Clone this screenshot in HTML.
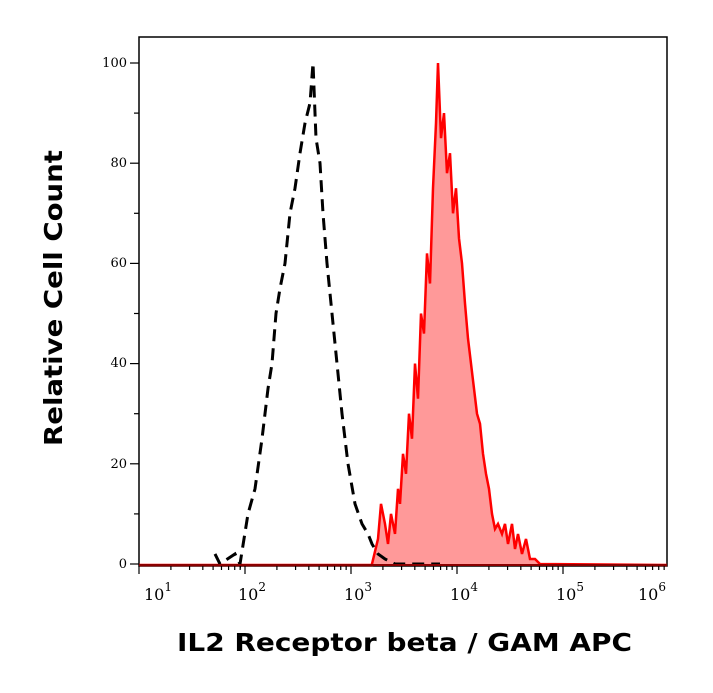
<!DOCTYPE html>
<html><head><meta charset="utf-8"><style>
body{margin:0;background:#fff;width:713px;height:688px;overflow:hidden}
svg{font-family:"DejaVu Serif","Liberation Serif",serif}
</style></head><body>
<svg id="s" width="713" height="688" xmlns="http://www.w3.org/2000/svg">
<rect x="139" y="37" width="528" height="529" fill="#fff" stroke="#000" stroke-width="1.5"/>
<path id="rf" fill="#ff9999" stroke="none"/>
<path id="rl" fill="none" stroke="#ff0000" stroke-width="2.5"/>
<path id="bl" fill="none" stroke="#000" stroke-width="3" stroke-dasharray="12,7"/>
<line x1="139" y1="565" x2="667" y2="565" stroke="#8b0000" stroke-width="2"/>
<g id="ax" stroke="#000" stroke-width="1.2"></g>
<g font-size="13" text-anchor="end" fill="#000">
<text x="127" y="67">100</text><text x="127" y="167">80</text><text x="127" y="267">60</text>
<text x="127" y="367">40</text><text x="127" y="468">20</text><text x="127" y="568">0</text>
</g>
<g font-size="16" fill="#000">
<text x="144" y="600">10<tspan font-size="12" dy="-9">1</tspan></text>
<text x="238" y="600">10<tspan font-size="12" dy="-9">2</tspan></text>
<text x="344" y="600">10<tspan font-size="12" dy="-9">3</tspan></text>
<text x="450" y="600">10<tspan font-size="12" dy="-9">4</tspan></text>
<text x="556" y="600">10<tspan font-size="12" dy="-9">5</tspan></text>
<text x="638" y="600">10<tspan font-size="12" dy="-9">6</tspan></text>
</g>
<text x="177" y="651" font-size="25" font-weight="bold" textLength="455" lengthAdjust="spacingAndGlyphs" font-family="DejaVu Sans,sans-serif">IL2 Receptor beta / GAM APC</text>
<text transform="translate(62,446) rotate(-90)" font-size="25" font-weight="bold" textLength="296" lengthAdjust="spacingAndGlyphs" font-family="DejaVu Sans,sans-serif">Relative Cell Count</text>
</svg>
<script>
var Y=c=>564-5.01*c;
var r=[[372,0],[378,5],[381,12],[385,8],[388,4],[391,10],[395,6],[398,15],[400,12],[403,22],[406,18],[409,30],[412,25],[415,40],[418,33],[421,50],[424,46],[427,62],[430,56],[433,75],[436,88],[438,100],[441,85],[444,90],[447,78],[450,82],[453,70],[456,75],[459,65],[462,60],[465,52],[468,45],[471,40],[474,35],[477,30],[480,28],[483,22],[486,18],[489,15],[492,10],[495,7],[498,8],[502,6],[505,8],[508,4],[512,8],[515,3],[518,6],[522,2],[526,5],[530,1],[535,1],[540,0]];
var d=r.map((p,i)=>(i?'L':'M')+p[0]+','+Y(p[1])).join('');
document.getElementById('rl').setAttribute('d','M139,565L372,565'+d.replace('M','L')+'L667,565');
document.getElementById('rf').setAttribute('d',d+'Z');
var b=[[215,2],[220,0],[235,2],[240,0],[248,10],[255,15],[262,25],[268,35],[272,40],[276,50],[280,55],[285,60],[290,70],[295,75],[300,82],[305,88],[310,92],[313,100],[316,85],[320,80],[323,70],[327,60],[332,50],[337,40],[342,30],[348,20],[355,12],[362,8],[368,6],[372,4],[378,2],[385,1],[395,0],[420,0],[440,0]];
document.getElementById('bl').setAttribute('d',b.map((p,i)=>(i?'L':'M')+p[0]+','+Y(p[1])).join(''));
var ax=document.getElementById('ax'),h='';
for(var c=0;c<=100;c+=10){var y=Y(c),l=c%20?5:9;h+='<line x1="'+(139-l)+'" y1="'+y+'" x2="139" y2="'+y+'"/>';}
for(var dd=1;dd<=6;dd++){for(var k=1;k<10;k++){var x=245+106*(dd-2)+106*Math.log10(k);if(x<139||x>668)continue;var l=k==1?8:4;h+='<line x1="'+x+'" y1="566" x2="'+x+'" y2="'+(566+l)+'"/>';}}
ax.innerHTML=h;
</script>
</body></html>
